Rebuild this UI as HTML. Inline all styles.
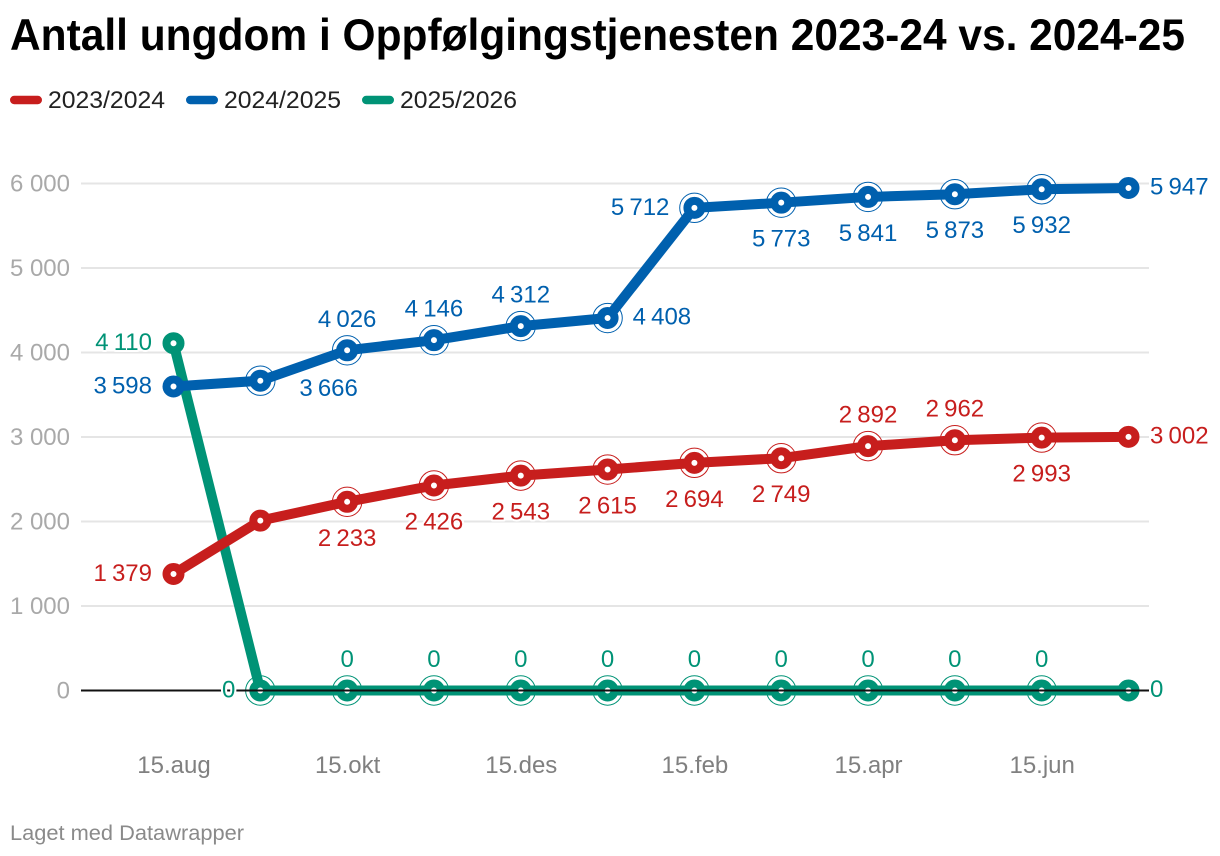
<!DOCTYPE html>
<html lang="no">
<head>
<meta charset="utf-8">
<title>Antall ungdom i Oppfølgingstjenesten 2023-24 vs. 2024-25</title>
<style>
  html, body { margin: 0; padding: 0; background: #fff; }
  svg { display: block; font-family: "Liberation Sans", sans-serif; }
  .halo { paint-order: stroke fill; stroke: #fff; stroke-width: 4px; stroke-linejoin: round; }
  .num { word-spacing: -1.5px; }
</style>
</head>
<body>
<svg id="chart" xmlns="http://www.w3.org/2000/svg" width="1220" height="856" viewBox="0 0 1220 856">
  <text x="10" y="50" font-size="44.5" font-weight="700" fill="#000" textLength="1175" lengthAdjust="spacingAndGlyphs">Antall ungdom i Oppfølgingstjenesten 2023-24 vs. 2024-25</text>

  <g>
    <rect x="10" y="95.800" width="32" height="8.500" rx="4.250" fill="#c71e1d"/>
    <text x="48" y="108" font-size="24" fill="#222" textLength="117" lengthAdjust="spacingAndGlyphs">2023/2024</text>
    <rect x="186" y="95.800" width="32" height="8.500" rx="4.250" fill="#0060ae"/>
    <text x="224" y="108" font-size="24" fill="#222" textLength="117" lengthAdjust="spacingAndGlyphs">2024/2025</text>
    <rect x="362" y="95.800" width="32" height="8.500" rx="4.250" fill="#009376"/>
    <text x="400" y="108" font-size="24" fill="#222" textLength="117" lengthAdjust="spacingAndGlyphs">2025/2026</text>
  </g>

  <g id="grid"></g>
  <g id="xaxis"></g>
  <g id="series"></g>
  <line id="baseline" x1="81" x2="1149" stroke="#111" stroke-width="2"/>
  <g id="labels"></g>

  <text x="10" y="840" font-size="21" fill="#8a8a8a" textLength="234" lengthAdjust="spacingAndGlyphs">Laget med Datawrapper</text>
</svg>

<script>
const categories = ['15.aug', '15.sep', '15.okt', '15.nov', '15.des', '15.jan', '15.feb', '15.mar', '15.apr', '15.mai', '15.jun', '15.jul'];
const yTicks = [0, 1000, 2000, 3000, 4000, 5000, 6000];
const values2023 = [1379, 2010, 2233, 2426, 2543, 2615, 2694, 2749, 2892, 2962, 2993, 3002];
const values2024 = [3598, 3666, 4026, 4146, 4312, 4408, 5712, 5773, 5841, 5873, 5932, 5947];
const values2025 = [4110, 0, 0, 0, 0, 0, 0, 0, 0, 0, 0, 0];
const placement2023 = ['left', null, 'below', 'below', 'below', 'below', 'below', 'below', 'above', 'above', 'below', 'right'];
const placement2024 = ['left', 'lower-right', 'above', 'above', 'above', 'right', 'left', 'below', 'below', 'below', 'below', 'right'];
const placement2025 = ['left', 'left', 'above', 'above', 'above', 'above', 'above', 'above', 'above', 'above', 'above', 'right'];

const NS = 'http://www.w3.org/2000/svg';
const xScale = function (i) { return 173.5 + i * (1128.5 - 173.5) / (categories.length - 1); };
const yScale = function (v) { return 690.5 - v * (690.5 - 183.5) / 6000; };
const formatValue = function (v) { return String(v).replace(/\B(?=(\d{3})+$)/g, ' '); };

function make(tag, attrs, parent) {
  const el = document.createElementNS(NS, tag);
  Object.keys(attrs).forEach(function (k) { el.setAttribute(k, attrs[k]); });
  parent.appendChild(el);
  return el;
}

const grid = document.getElementById('grid');
const xaxis = document.getElementById('xaxis');
const seriesLayer = document.getElementById('series');
const labelLayer = document.getElementById('labels');

const baseline = document.getElementById('baseline');
baseline.setAttribute('y1', yScale(0));
baseline.setAttribute('y2', yScale(0));

yTicks.forEach(function (t) {
  if (t !== 0) {
    const gl = make('line', { x1: 81, x2: 1149, y1: yScale(t), y2: yScale(t), stroke: '#e5e5e5', 'stroke-width': 2 }, grid);
    
    
  }
  const lab = make('text', { x: 70, y: yScale(t) + 8, 'text-anchor': 'end', 'font-size': 24, fill: '#a9a9a9' }, grid);
  
  
  lab.textContent = formatValue(t);
});

categories.forEach(function (c, i) {
  if (i % 2 !== 0) return;
  const lab = make('text', { x: xScale(i) + 0.5, y: 773, 'text-anchor': 'middle', 'font-size': 24, fill: '#808080' }, xaxis);
  
  
  lab.textContent = c;
});

function hasRing(placements, i) {
  return i !== 0 && i !== placements.length - 1 && placements[i] !== null;
}

function drawSeries(values, placements, color) {
  const g = make('g', {}, seriesLayer);
  
  

  values.forEach(function (v, i) {
    if (!hasRing(placements, i)) return;
    const ring = make('circle', { cx: xScale(i), cy: yScale(v), r: 14.7, fill: '#fff', stroke: color, 'stroke-width': 1 }, g);
    
    
  });

  const d = values.map(function (v, i) { return (i ? 'L' : 'M') + xScale(i).toFixed(2) + ' ' + yScale(v).toFixed(2); }).join(' ');
  const line = make('path', { d: d, fill: 'none', stroke: color, 'stroke-width': 10, 'stroke-linejoin': 'round', 'stroke-linecap': 'round' }, g);
  
  

  values.forEach(function (v, i) {
    const dot = make('circle', { cx: xScale(i), cy: yScale(v), r: 7, fill: '#fff', stroke: color, 'stroke-width': 8 }, g);
    
    
  });
}

function drawLabels(values, placements, color) {
  values.forEach(function (v, i) {
    const p = placements[i];
    if (p === null) return;
    const px = xScale(i);
    const py = yScale(v);
    const gap = hasRing(placements, i) ? 25 : 21.5;
    let x = px;
    let y = py;
    let anchor = 'middle';
    if (p === 'above') { y = py - 31 + 7.5; }
    if (p === 'below') { y = py + 36.5 + 7.5; }
    if (p === 'left') { x = px - gap; anchor = 'end'; y = py - 0.5 + 7.5; }
    if (p === 'right') { x = px + gap; anchor = 'start'; y = py - 1 + 7.5; }
    if (p === 'lower-right') { x = px + 39; anchor = 'start'; y = py + 8 + 7.5; }
    const lab = make('text', { x: x, y: y, 'text-anchor': anchor, 'font-size': 24, fill: color, class: 'halo num' }, labelLayer);
    
    
    lab.textContent = formatValue(v);
  });
}

drawSeries(values2025, placement2025, '#009376');
drawSeries(values2024, placement2024, '#0060ae');
drawSeries(values2023, placement2023, '#c71e1d');
drawLabels(values2025, placement2025, '#009376');
drawLabels(values2024, placement2024, '#0060ae');
drawLabels(values2023, placement2023, '#c71e1d');
</script>
</body>
</html>
